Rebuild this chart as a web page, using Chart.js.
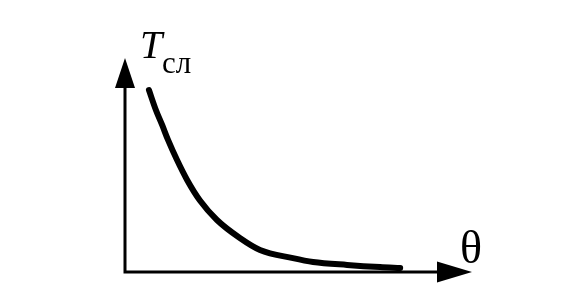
<!DOCTYPE html>
<html><head><meta charset="utf-8">
<script src="https://cdn.jsdelivr.net/npm/chart.js@4/dist/chart.umd.min.js"></script>
<style>html,body{margin:0;padding:0;background:#fff}#wrap{width:583px;height:300px}</style>
</head><body><div id="wrap"><canvas id="c" width="583" height="300"></canvas></div>
<script>
const thetaValues = [0.69, 0.89, 1.07, 1.24, 1.50, 1.79, 2.16, 2.65, 3.31, 3.89, 4.84, 5.42, 6.40, 7.35, 7.93];
const tslValues   = [8.50, 7.57, 6.87, 6.17, 5.23, 4.30, 3.34, 2.43, 1.59, 1.03, 0.65, 0.47, 0.33, 0.23, 0.19];
const yLabelMain = 'T';
const yLabelSub = 'сл';
const xLabel = 'θ';

const points = thetaValues.map((x, i) => ({x: x, y: tslValues[i]}));

const axesPlugin = {
  id: 'axesArrows',
  beforeDatasetsDraw(chart) {
    const ctx = chart.ctx;
    const xs = chart.scales.x, ys = chart.scales.y;
    const x0 = xs.getPixelForValue(0), y0 = ys.getPixelForValue(0);
    const xEnd = xs.getPixelForValue(10), yEnd = ys.getPixelForValue(10);
    ctx.save();
    ctx.strokeStyle = '#000'; ctx.fillStyle = '#000'; ctx.lineWidth = 3;
    ctx.beginPath();
    ctx.moveTo(x0 - 1.5, y0); ctx.lineTo(xEnd - 30, y0);
    ctx.moveTo(x0, y0 + 1.5); ctx.lineTo(x0, yEnd + 28);
    ctx.stroke();
    // x arrow
    ctx.beginPath();
    ctx.moveTo(xEnd, y0); ctx.lineTo(xEnd - 35, y0 - 10.5); ctx.lineTo(xEnd - 35, y0 + 10.5); ctx.closePath(); ctx.fill();
    // y arrow
    ctx.beginPath();
    ctx.moveTo(x0, yEnd); ctx.lineTo(x0 - 10, yEnd + 30); ctx.lineTo(x0 + 10, yEnd + 30); ctx.closePath(); ctx.fill();
    // labels
    ctx.textBaseline = 'alphabetic'; ctx.textAlign = 'left';
    ctx.font = 'italic 40px "Liberation Serif", "DejaVu Serif", serif';
    ctx.fillText(yLabelMain, x0 + 15, yEnd + 0);
    ctx.font = '31px "Liberation Serif", "DejaVu Serif", serif';
    ctx.fillText(yLabelSub, x0 + 37, yEnd + 15);
    ctx.font = '46px "Liberation Serif", "DejaVu Serif", serif';
    ctx.fillText(xLabel, xEnd - 12, y0 - 9);
    ctx.restore();
  }
};

new Chart(document.getElementById('c'), {
  type: 'line',
  data: { datasets: [{ data: points, borderColor: '#000', borderWidth: 6, pointRadius: 0,
    cubicInterpolationMode: 'monotone', borderCapStyle: 'round', borderJoinStyle: 'round', fill: false }] },
  options: {
    responsive: false, animation: false, devicePixelRatio: 1,
    layout: { padding: { left: 125, right: 111, top: 58, bottom: 28 } },
    plugins: { legend: { display: false }, tooltip: { enabled: false } },
    scales: {
      x: { type: 'linear', min: 0, max: 10, display: false },
      y: { type: 'linear', min: 0, max: 10, display: false }
    }
  },
  plugins: [axesPlugin]
});
</script></body></html>
